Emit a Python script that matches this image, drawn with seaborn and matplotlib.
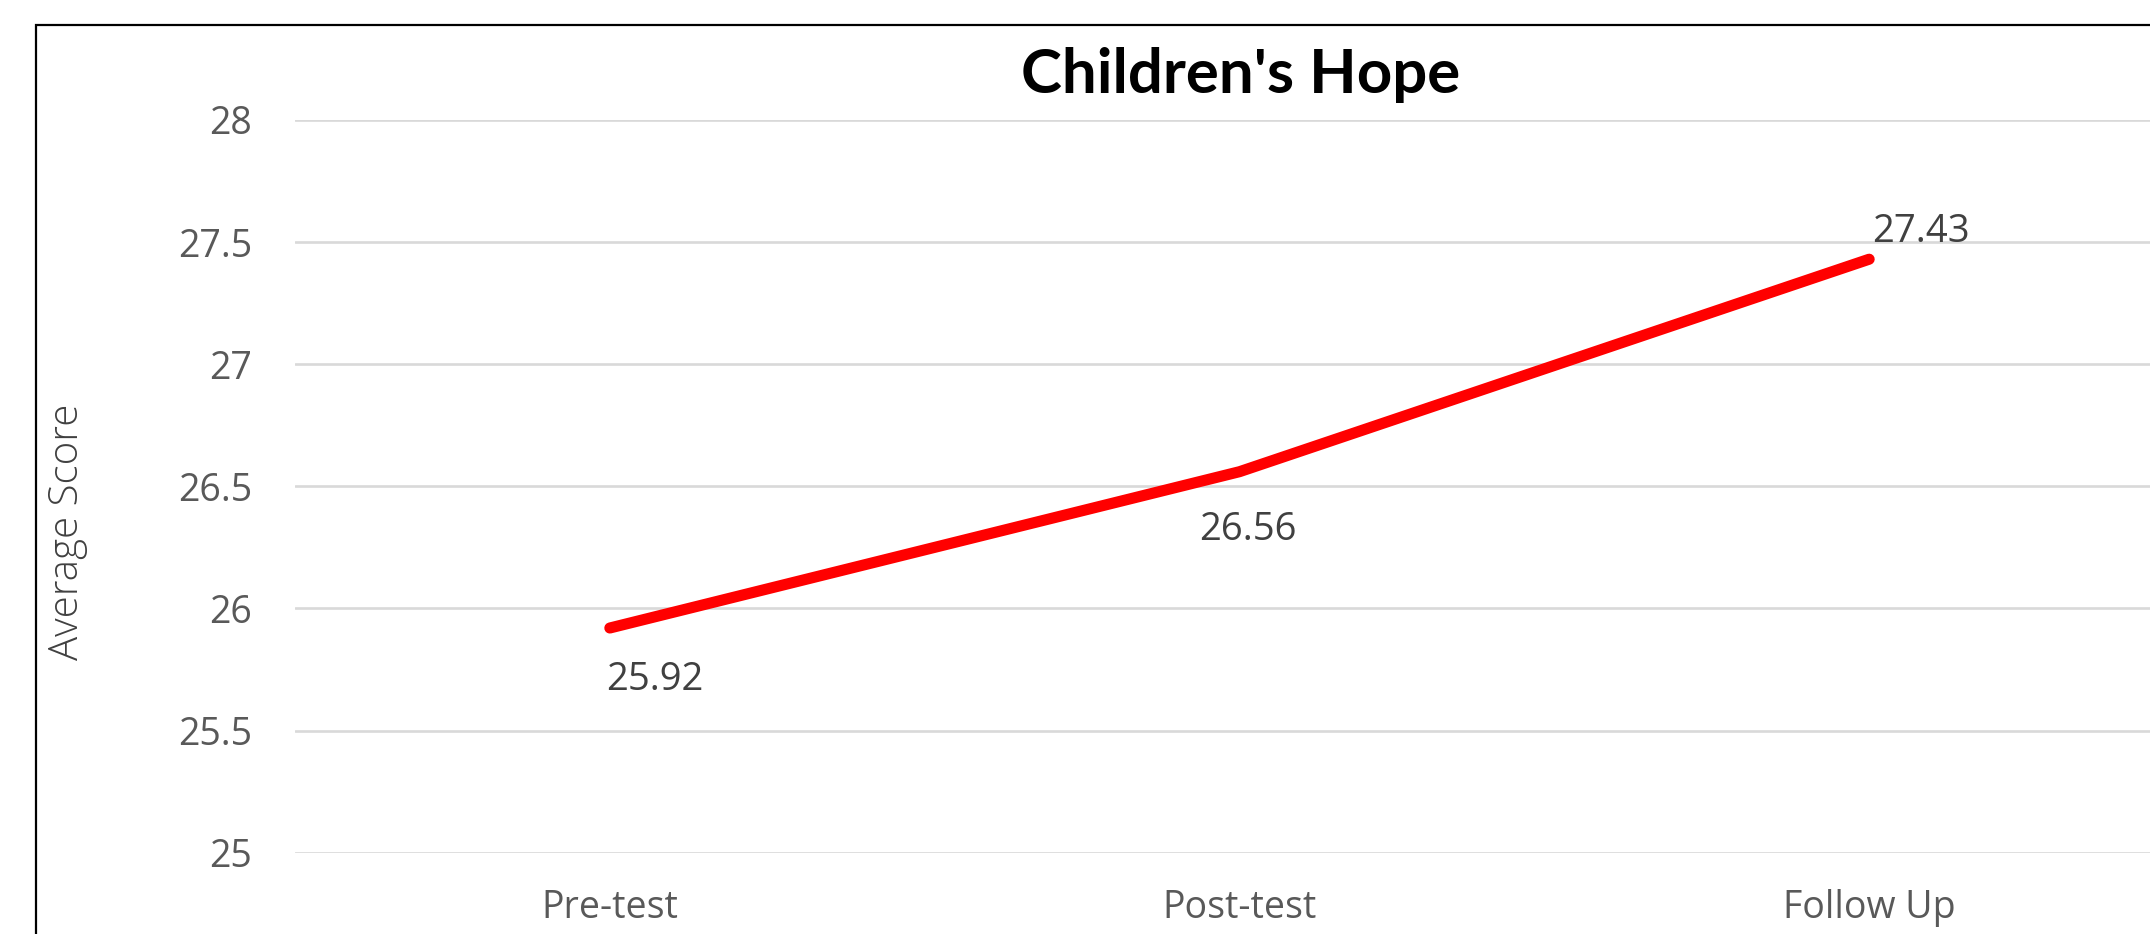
import matplotlib
matplotlib.use("Agg")
import matplotlib.pyplot as plt
import seaborn as sns
import pandas as pd
from matplotlib.patches import Rectangle

categories = ["Pre-test", "Post-test", "Follow Up"]
scores = [25.92, 26.56, 27.43]
y_ticks = [25, 25.5, 26, 26.5, 27, 27.5, 28]
y_tick_labels = ["25", "25.5", "26", "26.5", "27", "27.5", "28"]
title = "Children's Hope"
y_label = "Average Score"

sns.set_theme(style="white")
plt.rcParams['font.family'] = ['Open Sans', 'DejaVu Sans']

W, H, DPI = 2150, 934, 100
fig = plt.figure(figsize=(W / DPI, H / DPI), dpi=DPI)
fig.patch.set_facecolor("white")

# axes placed in pixel geometry
left_px, right_px, top_px, bottom_px = 295, 2184, 120, 852.7
ax = fig.add_axes([left_px / W, 1 - bottom_px / H,
                   (right_px - left_px) / W, (bottom_px - top_px) / H])

df = pd.DataFrame({"Phase": categories, "Score": scores})
sns.lineplot(data=df, x="Phase", y="Score", sort=False, ax=ax,
             color="#ff0000", linewidth=8, solid_capstyle="round")

ax.set_xlim(-0.5, 2.5)
ax.set_ylim(25, 28)
ax.set_yticks(y_ticks)
ax.set_yticklabels(y_tick_labels)
ax.yaxis.grid(True, color="#d9d9d9", linewidth=1.9)
ax.xaxis.grid(False)
ax.set_axisbelow(True)
for s in ax.spines.values():
    s.set_visible(False)
ax.tick_params(axis="y", length=0, pad=31, labelsize=27, labelcolor="#595959")
ax.tick_params(axis="x", length=0, pad=26, labelsize=27, labelcolor="#595959")
ax.set_xlabel("")
ax.set_ylabel("")

# data labels
offsets = [(-4, -62), (-40, -68), (3, 17)]
for i, (v, (dx, dy)) in enumerate(zip(scores, offsets)):
    ax.annotate(f"{v:.2f}", xy=(i, v), xytext=(dx, dy), textcoords="offset pixels",
                ha="left", va="baseline", fontsize=27.5, color="#404040")

# title and y label
fig.text(1241 / W, 1 - 93 / H, title, ha="center", va="baseline",
         fontsize=44.5, fontweight="bold", color="black",
         family=["Lato", "DejaVu Sans"])
fig.text(67 / W, 1 - 532 / H, y_label, rotation=90, ha="center", va="center",
         fontsize=29, fontweight="light", color="#404040")

# chart border (cropped on right/bottom)
fig.patches.append(Rectangle((36 / W, -0.2), 1.3, (1 - 25 / H) + 0.2,
                             transform=fig.transFigure, fill=False,
                             edgecolor="black", linewidth=1.6, zorder=10))

fig.savefig("out.png", dpi=DPI, facecolor="white")
